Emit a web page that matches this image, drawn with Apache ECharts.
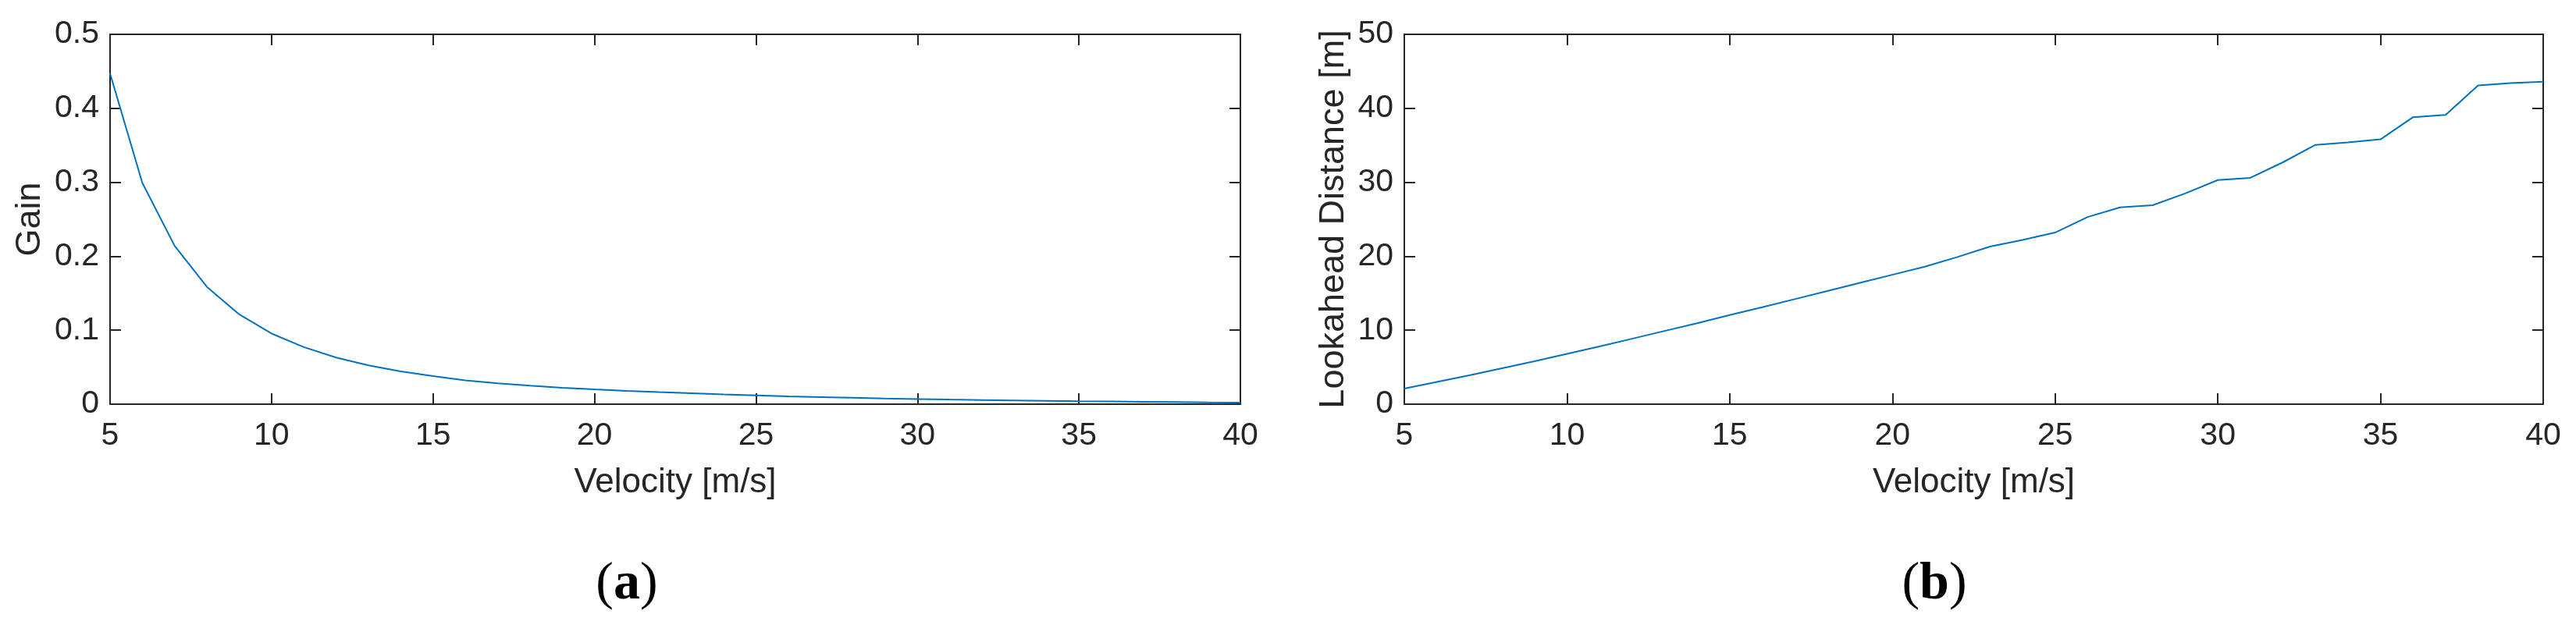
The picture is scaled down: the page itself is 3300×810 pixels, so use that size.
<!DOCTYPE html>
<html>
<head>
<meta charset="utf-8">
<script src="https://cdn.jsdelivr.net/npm/echarts@6/dist/echarts.min.js"></script>
<style>
html,body{margin:0;padding:0;background:#fff;}
#chart{width:3300px;height:810px;}
</style>
</head>
<body>
<div id="chart"></div>
<script>
const velocity = [5,6,7,8,9,10,11,12,13,14,15,16,17,18,19,20,21,22,23,24,25,26,27,28,29,30,31,32,33,34,35,36,37,38,39,40];
const gain = [0.447,0.299,0.214,0.1585,0.1214,0.0955,0.0771,0.063,0.0524,0.0442,0.0379,0.0322,0.0283,0.0251,0.0222,0.0200,0.0180,0.0163,0.0147,0.0131,0.0118,0.0105,0.0095,0.0086,0.0077,0.0069,0.0062,0.0056,0.0050,0.0045,0.0040,0.0036,0.0032,0.0028,0.0024,0.0021];
const lookahead = [2.1,3.0,3.9,4.85,5.8,6.8,7.8,8.85,9.9,10.95,12.05,13.1,14.2,15.3,16.4,17.5,18.6,19.9,21.3,22.2,23.2,25.3,26.6,26.9,28.5,30.3,30.6,32.7,35.05,35.4,35.8,38.8,39.1,43.1,43.4,43.6];
const xTitle = 'Velocity [m/s]';
const yTitleA = 'Gain';
const yTitleB = 'Lookahead Distance [m]';

const axisColor = '#262626';
const font = 'Liberation Sans, Arial, Helvetica, sans-serif';
const tickFont = 41, xNameFont = 44, yNameFont = 45;

function xAxes(gridIndex) {
  const base = {
    type: 'value', gridIndex: gridIndex, min: 5, max: 40, interval: 5,
    axisLine: {show: true, onZero: false, lineStyle: {color: axisColor, width: 2}},
    axisTick: {show: true, inside: true, length: 14, lineStyle: {color: axisColor, width: 2}},
    splitLine: {show: false}
  };
  return [
    Object.assign({}, base, {
      position: 'bottom',
      axisLabel: {color: axisColor, fontSize: tickFont, fontFamily: font, margin: 20},
      name: xTitle, nameLocation: 'middle', nameGap: 79,
      nameTextStyle: {color: axisColor, fontSize: xNameFont, fontFamily: font}
    }),
    Object.assign({}, base, {position: 'top', axisLabel: {show: false}})
  ];
}
function yAxes(gridIndex, max, interval, title, gap) {
  const base = {
    type: 'value', gridIndex: gridIndex, min: 0, max: max, interval: interval,
    axisLine: {show: true, onZero: false, lineStyle: {color: axisColor, width: 2}},
    axisTick: {show: true, inside: true, length: 14, lineStyle: {color: axisColor, width: 2}},
    splitLine: {show: false}
  };
  return [
    Object.assign({}, base, {
      position: 'left',
      axisLabel: {color: axisColor, fontSize: tickFont, fontFamily: font, margin: 14},
      name: title, nameLocation: 'middle', nameGap: gap, nameRotate: 90,
      nameTextStyle: {color: axisColor, fontSize: yNameFont, fontFamily: font}
    }),
    Object.assign({}, base, {position: 'right', axisLabel: {show: false}})
  ];
}

function caption(letter, cx, cy) {
  return {type: 'text', x: cx, y: cy, style: {
    text: '{p|(}{b|' + letter + '}{p|)}', align: 'center', verticalAlign: 'middle',
    rich: {p: {fontFamily: 'Liberation Serif, serif', fontSize: 68, fill: '#000'},
           b: {fontFamily: 'Liberation Serif, serif', fontSize: 68, fontWeight: 'bold', fill: '#000'}}
  }};
}

const chart = echarts.init(document.getElementById('chart'), null, {renderer: 'canvas'});
const option = {
  animation: false,
  backgroundColor: '#fff',
  grid: [
    {left: 141, top: 44, width: 1448, height: 474},
    {left: 1799, top: 44, width: 1459, height: 474}
  ],
  xAxis: [].concat(xAxes(0), xAxes(1)),
  yAxis: [].concat(yAxes(0, 0.5, 0.1, yTitleA, 80), yAxes(1, 50, 10, yTitleB, 68)),
  series: [
    {type: 'line', xAxisIndex: 0, yAxisIndex: 0, showSymbol: false,
     data: velocity.map((v, i) => [v, gain[i]]),
     lineStyle: {color: '#0072BD', width: 2}},
    {type: 'line', xAxisIndex: 2, yAxisIndex: 2, showSymbol: false,
     data: velocity.map((v, i) => [v, lookahead[i]]),
     lineStyle: {color: '#0072BD', width: 2}}
  ],
  graphic: [caption('a', 803, 749), caption('b', 2478, 749)]
};
chart.setOption(option);
</script>
</body>
</html>
